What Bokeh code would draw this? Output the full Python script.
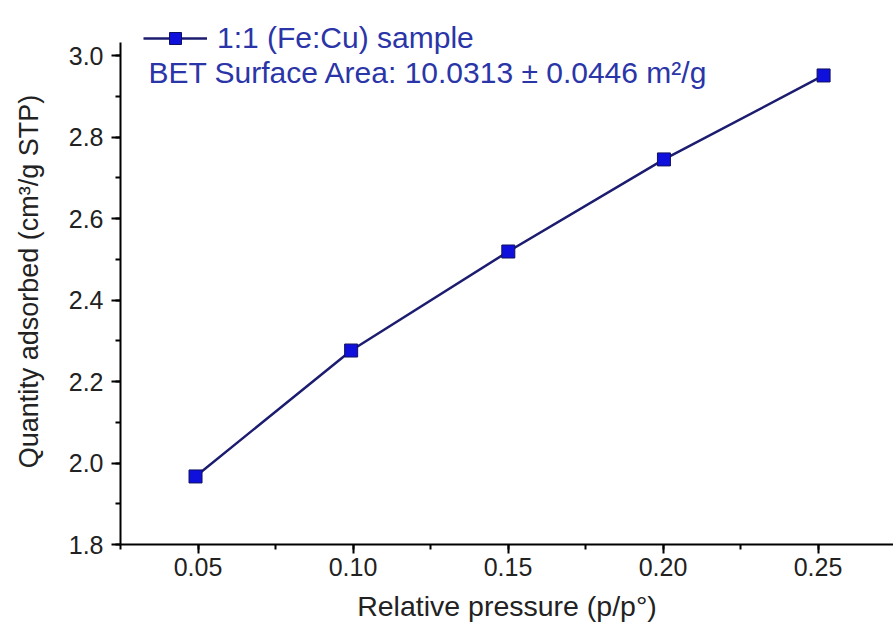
from bokeh.plotting import figure
from bokeh.models import (SingleIntervalTicker, NumeralTickFormatter, Legend,
                          LegendItem, Label, Range1d)
from bokeh.embed import file_html
from bokeh.resources import INLINE

# ---- data ----
pressure = [0.0492, 0.0994, 0.1501, 0.2003, 0.2518]
quantity = [1.967, 2.276, 2.519, 2.745, 2.951]
series_name = "1:1 (Fe:Cu) sample"
bet_text = "BET Surface Area: 10.0313 \u00b1 0.0446 m\u00b2/g"
x_label = "Relative pressure (p/p\u00b0)"
y_label = "Quantity adsorbed (cm\u00b3/g STP)"

FONT = "Liberation Sans"
LINE_COLOR = "#1c1c70"
MARK_COLOR = "#1010dc"
TEXT_BLUE = "#2a35a8"

p = figure(width=893, height=628, output_backend="svg", toolbar_location=None,
           x_range=Range1d(0.025, 0.27435), y_range=Range1d(1.8, 3.0908),
           min_border_left=120, min_border_right=0, min_border_top=18,
           min_border_bottom=84)
p.outline_line_color = None
p.xgrid.visible = False
p.ygrid.visible = False
p.background_fill_color = "white"

line_r = p.line(pressure, quantity, line_color=LINE_COLOR, line_width=2.5)
mark_r = p.scatter(pressure, quantity, marker="square", size=13,
                   fill_color=MARK_COLOR, line_color="#101060", line_width=1)

for ax in (p.xaxis[0], p.yaxis[0]):
    ax.axis_line_width = 2
    ax.axis_line_color = "black"
    ax.major_tick_line_width = 2
    ax.major_tick_line_color = "black"
    ax.minor_tick_line_width = 2
    ax.minor_tick_line_color = "black"
    ax.major_tick_in = 0
    ax.major_tick_out = 9
    ax.minor_tick_in = 0
    ax.minor_tick_out = 5
    ax.major_label_text_font = FONT
    ax.major_label_text_font_size = "25px"
    ax.major_label_text_color = "#222222"
    ax.axis_label_text_font = FONT
    ax.axis_label_text_font_style = "normal"
    ax.axis_label_text_color = "#222222"

p.xaxis.ticker = SingleIntervalTicker(interval=0.05, num_minor_ticks=2)
p.yaxis.ticker = SingleIntervalTicker(interval=0.2, num_minor_ticks=2)
p.yaxis.bounds = (1.8, 3.032)
p.xaxis.formatter = NumeralTickFormatter(format="0.00")
p.yaxis.formatter = NumeralTickFormatter(format="0.0")
p.xaxis.axis_label = x_label
p.yaxis.axis_label = y_label
p.xaxis.axis_label_text_font_size = "28.5px"
p.yaxis.axis_label_text_font_size = "27px"
p.xaxis.major_label_standoff = 4
p.xaxis.axis_label_standoff = 11
p.yaxis.major_label_standoff = 8
p.yaxis.axis_label_standoff = 22

legend = Legend(items=[LegendItem(label=series_name, renderers=[line_r, mark_r])],
                location=(23, 489), padding=0, margin=0, border_line_color=None,
                background_fill_alpha=0, glyph_width=64, glyph_height=30,
                label_height=30, label_standoff=10, label_text_font=FONT,
                label_text_font_size="30px", label_text_color=TEXT_BLUE)
p.add_layout(legend, "center")

p.add_layout(Label(x=0.034, y=2.958, text=bet_text, text_font=FONT,
                   text_font_size="30px", text_color=TEXT_BLUE,
                   text_baseline="middle"))

open("out.html", "w").write(file_html(p, INLINE))
